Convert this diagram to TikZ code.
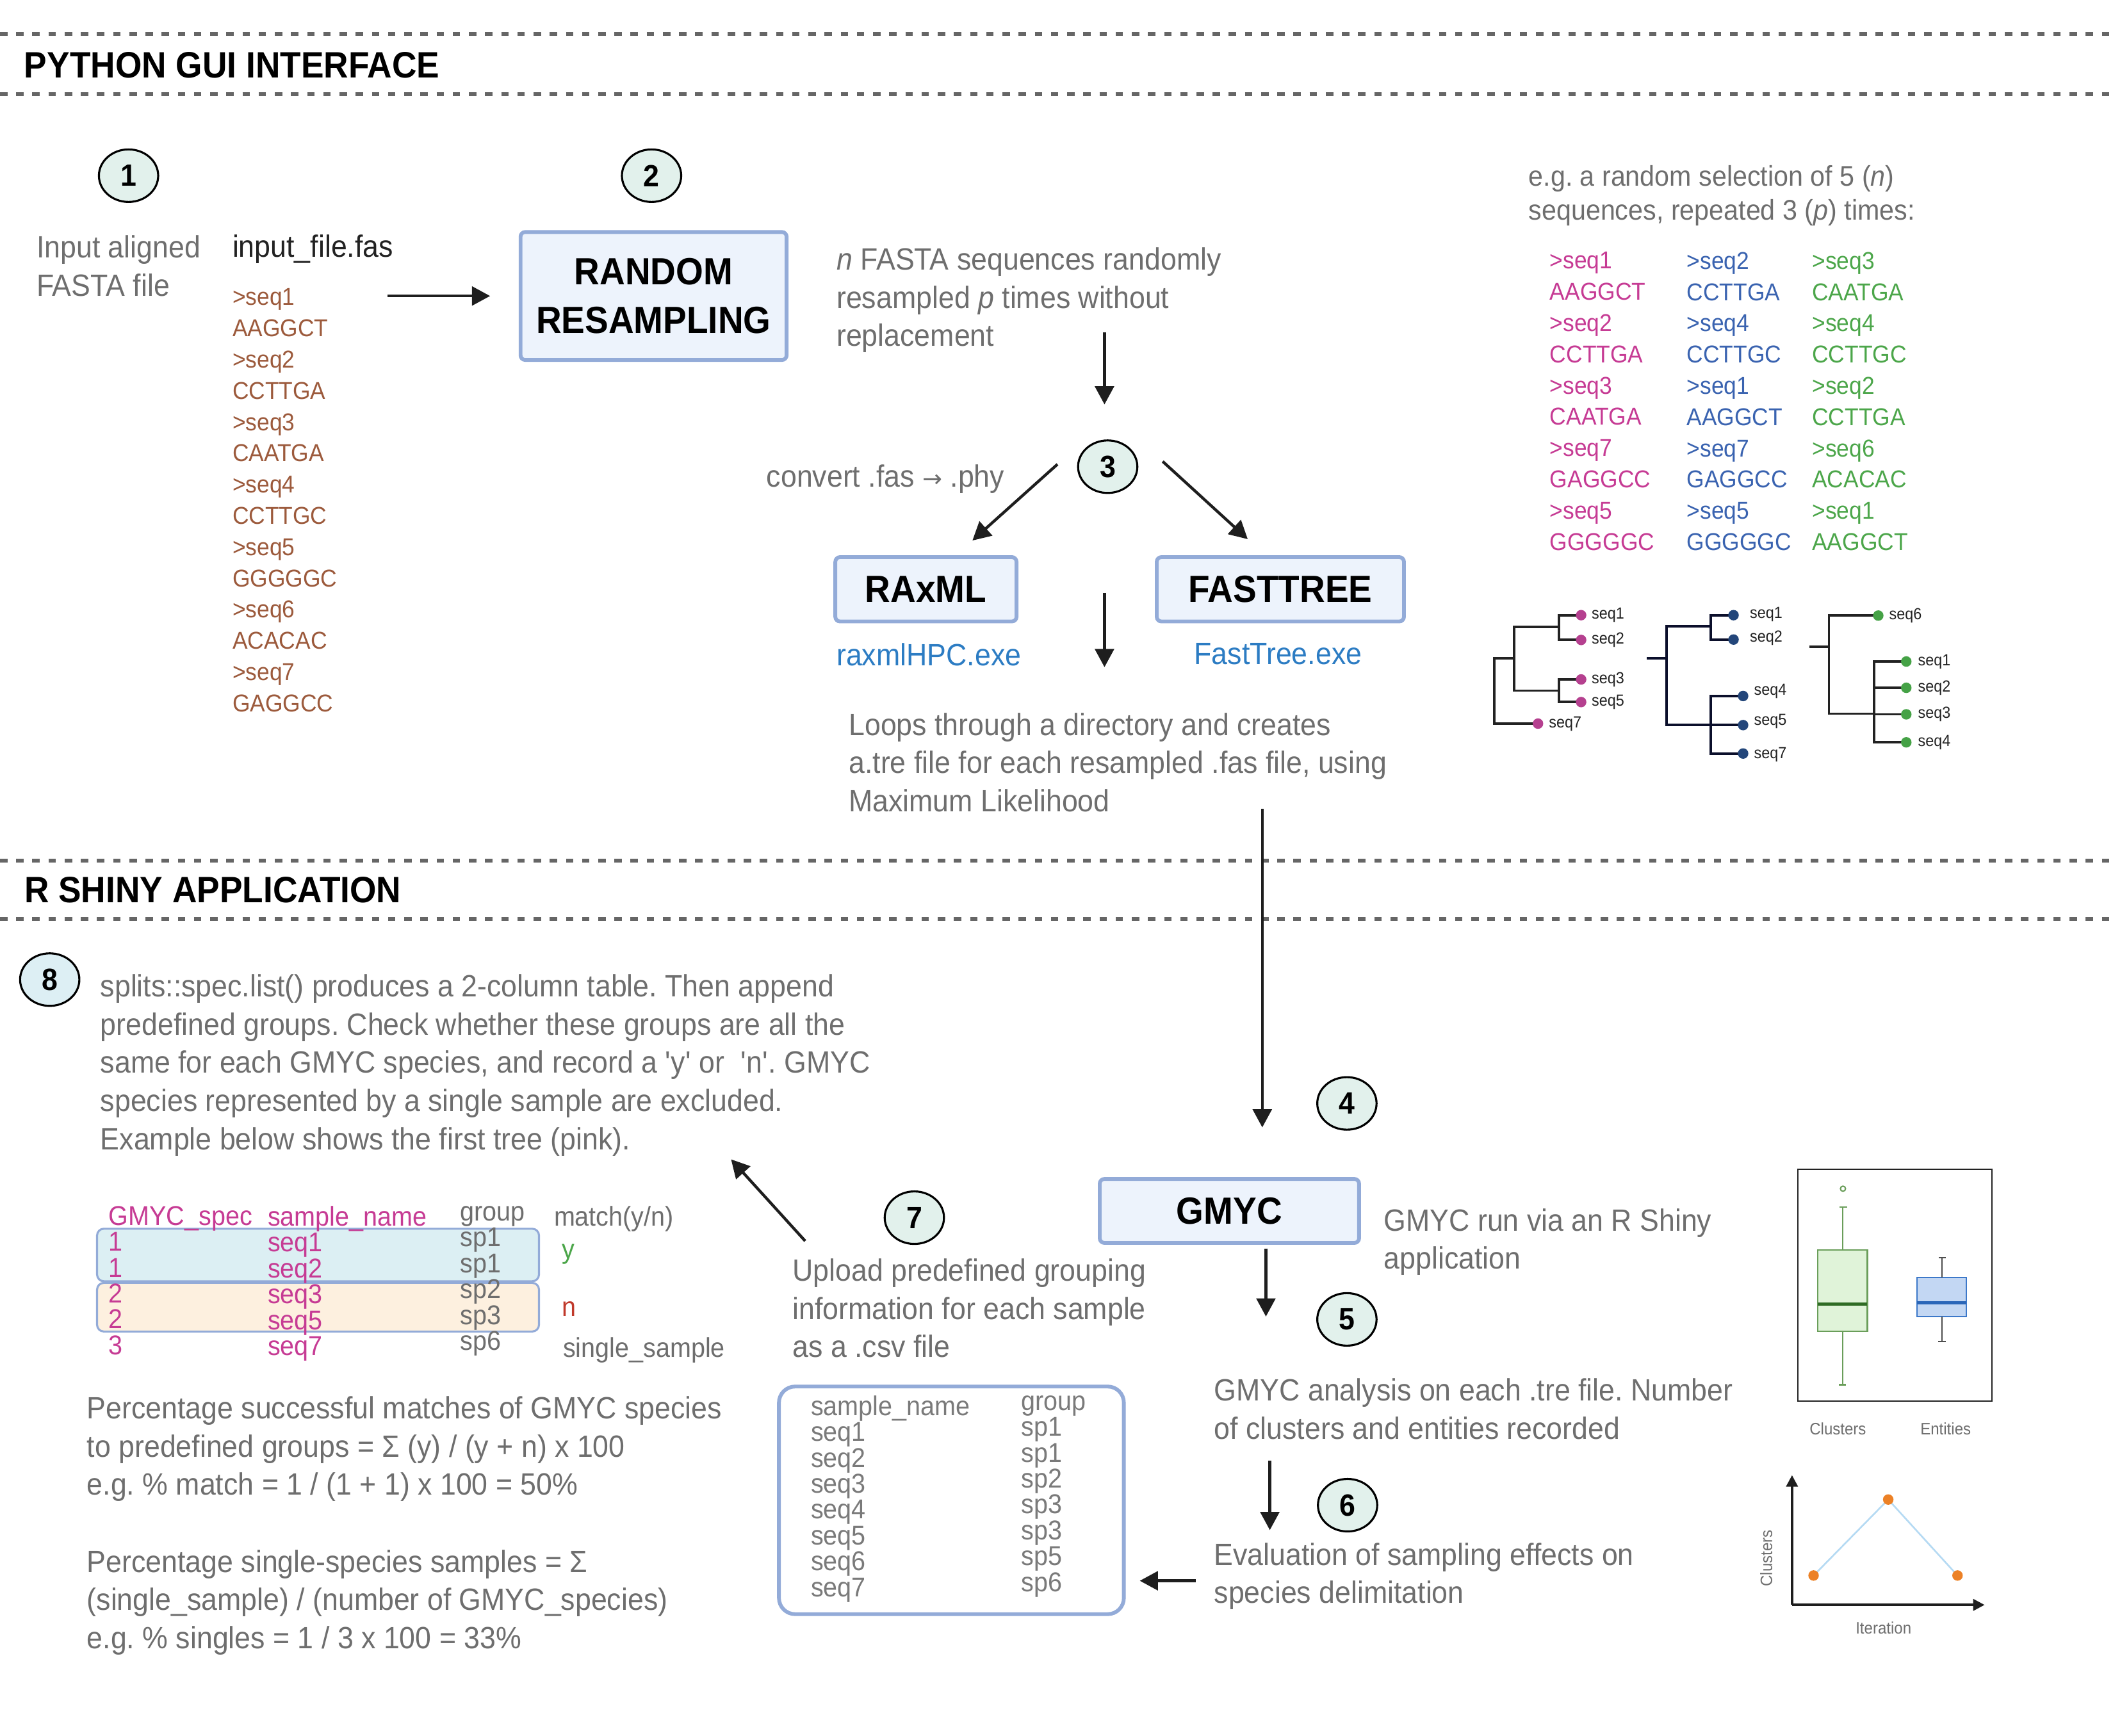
\documentclass[tikz,border=0pt]{standalone}
\usepackage{fontspec}
\setmainfont{Liberation Sans}[FakeStretch=0.93]
\newfontfamily\arrowfont{DejaVu Sans}
\usetikzlibrary{arrows.meta,shapes.geometric}
\setlength\lineskiplimit{-20pt}
\frenchspacing
\definecolor{txtgray}{HTML}{6E6E6E}
\definecolor{csvgray}{HTML}{7A7A7A}
\definecolor{dashgray}{HTML}{666666}
\definecolor{darktext}{HTML}{222222}
\definecolor{boxfill}{HTML}{EDF3FC}
\definecolor{boxline}{HTML}{93ABD8}
\definecolor{mint}{HTML}{E2F1EC}
\definecolor{lightcyan}{HTML}{DDEFF4}
\definecolor{tabblue}{HTML}{DCEFF3}
\definecolor{taborange}{HTML}{FDF0DF}
\definecolor{brownseq}{HTML}{9C5A3C}
\definecolor{pinkseq}{HTML}{C63B94}
\definecolor{blueseq}{HTML}{3A63B0}
\definecolor{greenseq}{HTML}{4CA64A}
\definecolor{redn}{HTML}{C0392B}
\definecolor{exeblue}{HTML}{2C7CC3}
\definecolor{arrowdark}{HTML}{1E1E1E}
\definecolor{pinkdot}{HTML}{B5408F}
\definecolor{navydot}{HTML}{23467A}
\definecolor{greendot}{HTML}{45A246}
\definecolor{navyline}{HTML}{0B0F2B}
\definecolor{treeline}{HTML}{222222}
\definecolor{bpgreenfill}{HTML}{E0F3D9}
\definecolor{bpgreenline}{HTML}{6A9E5A}
\definecolor{bpgreenmed}{HTML}{2F6B24}
\definecolor{bpbluefill}{HTML}{C3D7F3}
\definecolor{bpblueline}{HTML}{3C78C9}
\definecolor{bpbluemed}{HTML}{2A66B8}
\definecolor{orangedot}{HTML}{EC8126}
\definecolor{chartline}{HTML}{B5DAF3}
\tikzset{
  dashline/.style={draw=dashgray, line width=0.055cm, dash pattern=on 0.11cm off 0.13cm},
  sectitle/.style={anchor=west, inner sep=0pt, text=black, font=\bfseries\fontsize{15.5}{19}\selectfont},
  numc/.style={ellipse, draw=black, line width=0.03cm, fill=mint, minimum width=0.88cm, minimum height=0.78cm, inner sep=0pt, font=\bfseries\fontsize{13}{15}\selectfont},
  procbox/.style={draw=boxline, fill=boxfill, line width=0.056cm, rounded corners=0.07cm, inner sep=0pt, align=center, font=\bfseries\fontsize{16}{20.5}\selectfont},
  body/.style={anchor=north west, inner sep=0pt, align=left, text=txtgray, font=\fontsize{13}{16.1}\selectfont},
  egtext/.style={body, font=\fontsize{12}{14.35}\selectfont},
  fasta/.style={anchor=north west, inner sep=0pt, align=left, font=\fontsize{10.3}{13.2}\selectfont},
  tabtext/.style={anchor=north west, inner sep=0pt, align=left, font=\fontsize{11.5}{10.93}\selectfont},
  tabbox/.style={draw=boxline, line width=0.03cm, rounded corners=0.1cm, inner sep=0pt, minimum width=6.56cm},
  arr/.style={draw=arrowdark, line width=0.042cm, -{Triangle[width=0.28cm,length=0.27cm]}},
  axisarr/.style={draw=arrowdark, line width=0.035cm, -{Triangle[width=0.17cm,length=0.17cm]}},
  leaflab/.style={anchor=west, inner sep=0pt, text=darktext, font=\fontsize{6.8}{8}\selectfont},
  chartlab/.style={inner sep=0pt, text=txtgray, font=\fontsize{7}{8}\selectfont},
  tline/.style={draw=treeline, line width=0.036cm},
}
\begin{document}
\begin{tikzpicture}[x=0.02cm,y=-0.02cm]
\path[use as bounding box] (0,0) rectangle (1568,1288.5);

% ---------- section headers ----------
\draw[dashline] (0,25.1) -- (1568,25.1);
\draw[dashline] (0,69.7) -- (1568,69.7);
\node[sectitle] (sec1) at (17.7,48.6) {PYTHON GUI INTERFACE};
\draw[dashline] (0,638.7) -- (1568,638.7);
\draw[dashline] (0,682.1) -- (1568,682.1);
\node[sectitle] (sec2) at (17.8,660.7) {R SHINY APPLICATION};

% ---------- step circles ----------
\node[numc] (c1) at (95.4,130.4) {1};
\node[numc] (c2) at (483.5,130.4) {2};
\node[numc] (c3) at (822,346.4) {3};
\node[numc] (c4) at (999.5,819) {4};
\node[numc] (c5) at (999.5,979.3) {5};
\node[numc] (c6) at (1000,1117.2) {6};
\node[numc] (c7) at (678.5,903.8) {7};
\node[numc, fill=lightcyan] (c8) at (36.9,727.1) {8};

% ---------- step 1 ----------
\node[body] (inp) at (26.8,174.5) {Input aligned\\FASTA file};
\node[body, text=darktext] (infile) at (172.2,173.8) {input\_file.fas};
\node[fasta, text=brownseq] (flist) at (172.2,213.9) {>seq1\\AAGGCT\\>seq2\\CCTTGA\\>seq3\\CAATGA\\>seq4\\CCTTGC\\>seq5\\GGGGGC\\>seq6\\ACACAC\\>seq7\\GAGGCC};

% ---------- step 2 ----------
\node[procbox, minimum width=3.95cm, minimum height=1.9cm] (rr) at (485,219.7) {RANDOM\\RESAMPLING};
\node[body] (rtext) at (620.5,183.6) {\textit{n} FASTA sequences randomly\\resampled \textit{p} times without\\replacement};

% ---------- example selection ----------
\node[egtext] (eg) at (1134,122.5) {e.g. a random selection of 5 (\textit{n})\\sequences, repeated 3 (\textit{p}) times:};
\node[fasta, text=pinkseq] (col1) at (1149.8,186.8) {>seq1\\AAGGCT\\>seq2\\CCTTGA\\>seq3\\CAATGA\\>seq7\\GAGGCC\\>seq5\\GGGGGC};
\node[fasta, text=blueseq] (col2) at (1251.4,186.8) {>seq2\\CCTTGA\\>seq4\\CCTTGC\\>seq1\\AAGGCT\\>seq7\\GAGGCC\\>seq5\\GGGGGC};
\node[fasta, text=greenseq] (col3) at (1344.4,186.8) {>seq3\\CAATGA\\>seq4\\CCTTGC\\>seq2\\CCTTGA\\>seq6\\ACACAC\\>seq1\\AAGGCT};

% ---------- step 3 ----------
\node[body] (conv) at (568.5,344.7) {convert .fas {\arrowfont\fontsize{10}{12}\selectfont →} .phy};
\node[procbox, minimum width=2.69cm, minimum height=0.956cm] (raxml) at (687.1,437.4) {RAxML};
\node[procbox, minimum width=3.67cm, minimum height=0.956cm] (ftree) at (950.1,437.4) {FASTTREE};
\node[body, text=exeblue] (rexe) at (620.5,477.1) {raxmlHPC.exe};
\node[body, text=exeblue] (fexe) at (885.9,477.1) {FastTree.exe};
\node[body] (loops) at (629.6,528.8) {Loops through a directory and creates\\a.tre file for each resampled .fas file, using\\Maximum Likelihood};

% ---------- trees ----------
% tree 1
\draw[tline] (1123.6,488.6) -- (1108.7,488.6) -- (1108.7,537.1) -- (1139.8,537.1);
\draw[tline] (1156.9,465.4) -- (1123.6,465.4) -- (1123.6,512.6) -- (1156.9,512.6);
\draw[tline] (1171,456.6) -- (1156.9,456.6) -- (1156.9,475.0) -- (1171,475.0);
\draw[tline] (1171,504.3) -- (1156.9,504.3) -- (1156.9,521.1) -- (1171,521.1);
\foreach \yy in {456.6,475.0,504.3,521.1} \fill[pinkdot] (1173.3,\yy) circle[radius=0.078cm];
\fill[pinkdot] (1141.3,537.1) circle[radius=0.078cm];
\node[leaflab] (t1a) at (1180.8,456.6) {seq1};
\node[leaflab] (t1b) at (1180.8,475.0) {seq2};
\node[leaflab] (t1c) at (1180.8,504.3) {seq3};
\node[leaflab] (t1d) at (1180.8,521.1) {seq5};
\node[leaflab] (t1e) at (1149.1,537.1) {seq7};
% tree 2
\draw[tline, draw=navyline] (1222.1,488.6) -- (1236.7,488.6);
\draw[tline, draw=navyline] (1269.6,464.9) -- (1236.7,464.9) -- (1236.7,537.9) -- (1269.6,537.9);
\draw[tline, draw=navyline] (1284,456.6) -- (1269.6,456.6) -- (1269.6,474.7) -- (1284,474.7);
\draw[tline, draw=navyline] (1291,516.6) -- (1269.6,516.6) -- (1269.6,559.3) -- (1291,559.3);
\draw[tline, draw=navyline] (1269.6,538.2) -- (1291,538.2);
\fill[navydot] (1286.4,456.6) circle[radius=0.078cm];
\fill[navydot] (1286.4,474.7) circle[radius=0.078cm];
\foreach \yy in {516.6,538.2,559.3} \fill[navydot] (1293.5,\yy) circle[radius=0.078cm];
\node[leaflab] (t2a) at (1298.2,456.0) {seq1};
\node[leaflab] (t2b) at (1298.2,473.5) {seq2};
\node[leaflab] (t2c) at (1301.3,513.0) {seq4};
\node[leaflab] (t2d) at (1301.3,535.5) {seq5};
\node[leaflab] (t2e) at (1301.3,560.0) {seq7};
% tree 3
\draw[tline] (1342.6,480.1) -- (1357.2,480.1);
\draw[tline] (1392,456.9) -- (1357.2,456.9) -- (1357.2,529.7) -- (1390.7,529.7);
\draw[tline] (1413,491.0) -- (1390.7,491.0) -- (1390.7,551.0) -- (1413,551.0);
\draw[tline] (1390.7,510.5) -- (1413,510.5);
\draw[tline] (1390.7,530.2) -- (1413,530.2);
\fill[greendot] (1393.8,456.9) circle[radius=0.078cm];
\foreach \yy in {491.0,510.5,530.2,551.0} \fill[greendot] (1414.6,\yy) circle[radius=0.078cm];
\node[leaflab] (t3a) at (1401.6,456.9) {seq6};
\node[leaflab] (t3b) at (1423,491.0) {seq1};
\node[leaflab] (t3c) at (1423,510.5) {seq2};
\node[leaflab] (t3d) at (1423,530.2) {seq3};
\node[leaflab] (t3e) at (1423,551.0) {seq4};

% ---------- step 8 ----------
\node[body] (t8) at (74.2,723.1) {splits::spec.list() produces a 2-column table. Then append\\predefined groups. Check whether these groups are all the\\same for each GMYC species, and record a \textquotesingle y\textquotesingle{} or~ \textquotesingle n\textquotesingle . GMYC\\species represented by a single sample are excluded.\\Example below shows the first tree (pink).};

% table
\node[tabbox, fill=tabblue, minimum height=0.78cm] (tblue) at (236,931.5) {};
\node[tabbox, fill=taborange, minimum height=0.722cm] (torange) at (236,970.25) {};
\node[tabtext, text=pinkseq] (tc1) at (80.4,894.9) {GMYC\_spec\\1\\1\\2\\2\\3};
\node[tabtext, text=pinkseq] (tc2) at (198.4,894.9) {sample\_name\\seq1\\seq2\\seq3\\seq5\\seq7};
\node[tabtext, text=txtgray] (tc3) at (341.2,894.9) {group\\sp1\\sp1\\sp2\\sp3\\sp6};
\node[tabtext, text=txtgray] (tc4) at (410.8,894.9) {match(y/n)};
\node[tabtext, anchor=base west, text=greenseq] (ty) at (416.5,934) {y};
\node[tabtext, anchor=base west, text=redn] (tn) at (416.5,977.1) {n};
\node[tabtext, anchor=base west, text=txtgray] (tss) at (417.5,1007.5) {single\_sample};

\node[body] (pct1) at (64.2,1036.3) {Percentage successful matches of GMYC species\\to predefined groups = Σ (y) / (y + n) x 100\\e.g. \% match = 1 / (1 + 1) x 100 = 50\%};
\node[body] (pct2) at (64.2,1150.1) {Percentage single-species samples = Σ\\(single\_sample) / (number of GMYC\_species)\\e.g. \% singles = 1 / 3 x 100 = 33\%};

% ---------- step 7 ----------
\node[body] (t7) at (587.8,934.1) {Upload predefined grouping\\information for each sample\\as a .csv file};
\node[draw=boxline, line width=0.056cm, rounded corners=0.24cm, fill=white, minimum width=5.12cm, minimum height=3.38cm, inner sep=0pt] (csv) at (706,1113.6) {};
\node[tabtext, text=csvgray] (cs1) at (601.4,1035.5) {sample\_name\\seq1\\seq2\\seq3\\seq4\\seq5\\seq6\\seq7};
\node[tabtext, text=csvgray] (cs2) at (757.6,1035.5) {group\\sp1\\sp1\\sp2\\sp3\\sp3\\sp5\\sp6};

% ---------- steps 4-6 ----------
\node[procbox, minimum width=3.85cm, minimum height=0.95cm] (gmyc) at (912.3,898.8) {GMYC};
\node[body] (trun) at (1026.6,896.8) {GMYC run via an R Shiny\\application};
\node[body] (tana) at (900.7,1022.9) {GMYC analysis on each .tre file. Number\\of clusters and entities recorded};
\node[body] (teval) at (900.7,1144.8) {Evaluation of sampling effects on\\species delimitation};

% ---------- box plot ----------
\draw[draw=darktext, line width=0.022cm] (1334,868) rectangle (1478,1040);
\draw[fill=bpgreenfill, draw=bpgreenline, line width=0.02cm] (1349,927.6) rectangle (1385.7,988.3);
\draw[draw=bpgreenmed, line width=0.045cm] (1349,967.8) -- (1385.7,967.8);
\draw[draw=bpgreenline, line width=0.02cm] (1367.6,927.6) -- (1367.6,895.8) (1365,895.8) -- (1370.5,895.8)
  (1367.3,988.3) -- (1367.3,1027.8) (1364.6,1027.8) -- (1370,1027.8);
\draw[draw=bpgreenline, line width=0.02cm] (1367.6,882.3) circle[radius=0.038cm];
\draw[fill=bpbluefill, draw=bpblueline, line width=0.02cm] (1422.6,948.1) rectangle (1459.3,977.0);
\draw[draw=bpbluemed, line width=0.045cm] (1422.6,967.0) -- (1459.3,967.0);
\draw[draw=darktext!80, line width=0.022cm] (1441.2,948.1) -- (1441.2,933.4) (1438.5,933.4) -- (1444,933.4)
  (1441,977.0) -- (1441,995.8) (1438.3,995.8) -- (1443.7,995.8);
\node[chartlab] (bpl1) at (1363.8,1060.3) {Clusters};
\node[chartlab] (bpl2) at (1443.8,1060.3) {Entities};

% ---------- line chart ----------
\coordinate (origin) at (1329.8,1191.2);
\coordinate (ytip) at (1329.8,1094.9);
\coordinate (xtip) at (1472.7,1191.2);
\draw[axisarr] (origin) -- (ytip);
\draw[axisarr] (origin) -- (xtip);
\draw[draw=chartline, line width=0.025cm] (1345.8,1169.4) -- (1401.2,1113.0) -- (1452.6,1169.4);
\fill[orangedot] (1345.8,1169.4) circle[radius=0.078cm];
\fill[orangedot] (1401.2,1113.0) circle[radius=0.078cm];
\fill[orangedot] (1452.6,1169.4) circle[radius=0.078cm];
\node[chartlab, rotate=90] (ylab) at (1310.7,1156.6) {Clusters};
\node[chartlab] (xlab) at (1397.7,1208.2) {Iteration};

% ---------- connectors ----------
\coordinate (a1s) at (287.7,219.7);   \coordinate (a1e) at (363.7,219.7);
\coordinate (a2s) at (819.6,246.7);   \coordinate (a2e) at (819.6,300.2);
\coordinate (a3s) at (784.7,344.6);   \coordinate (a3e) at (721.6,401.2);
\coordinate (a4s) at (862.8,342.5);   \coordinate (a4e) at (925.9,400.2);
\coordinate (a5s) at (819.6,440.1);   \coordinate (a5e) at (819.6,495.2);
\coordinate (a6s) at (936.7,600.3);   \coordinate (a6e) at (936.7,836.8);
\coordinate (a7s) at (939.4,926.6);   \coordinate (a7e) at (939.4,977.2);
\coordinate (a8s) at (942.3,1084.2);  \coordinate (a8e) at (942.3,1135.7);
\coordinate (a9s) at (887.4,1173.3);  \coordinate (a9e) at (845.8,1173.3);
\coordinate (a10s) at (597.5,921.1);  \coordinate (a10e) at (542.5,860.5);
\draw[arr] (a1s) -- (a1e);
\draw[arr] (a2s) -- (a2e);
\draw[arr] (a3s) -- (a3e);
\draw[arr] (a4s) -- (a4e);
\draw[arr] (a5s) -- (a5e);
\draw[arr] (a6s) -- (a6e);
\draw[arr] (a7s) -- (a7e);
\draw[arr] (a8s) -- (a8e);
\draw[arr] (a9s) -- (a9e);
\draw[arr] (a10s) -- (a10e);
\end{tikzpicture}
\end{document}
